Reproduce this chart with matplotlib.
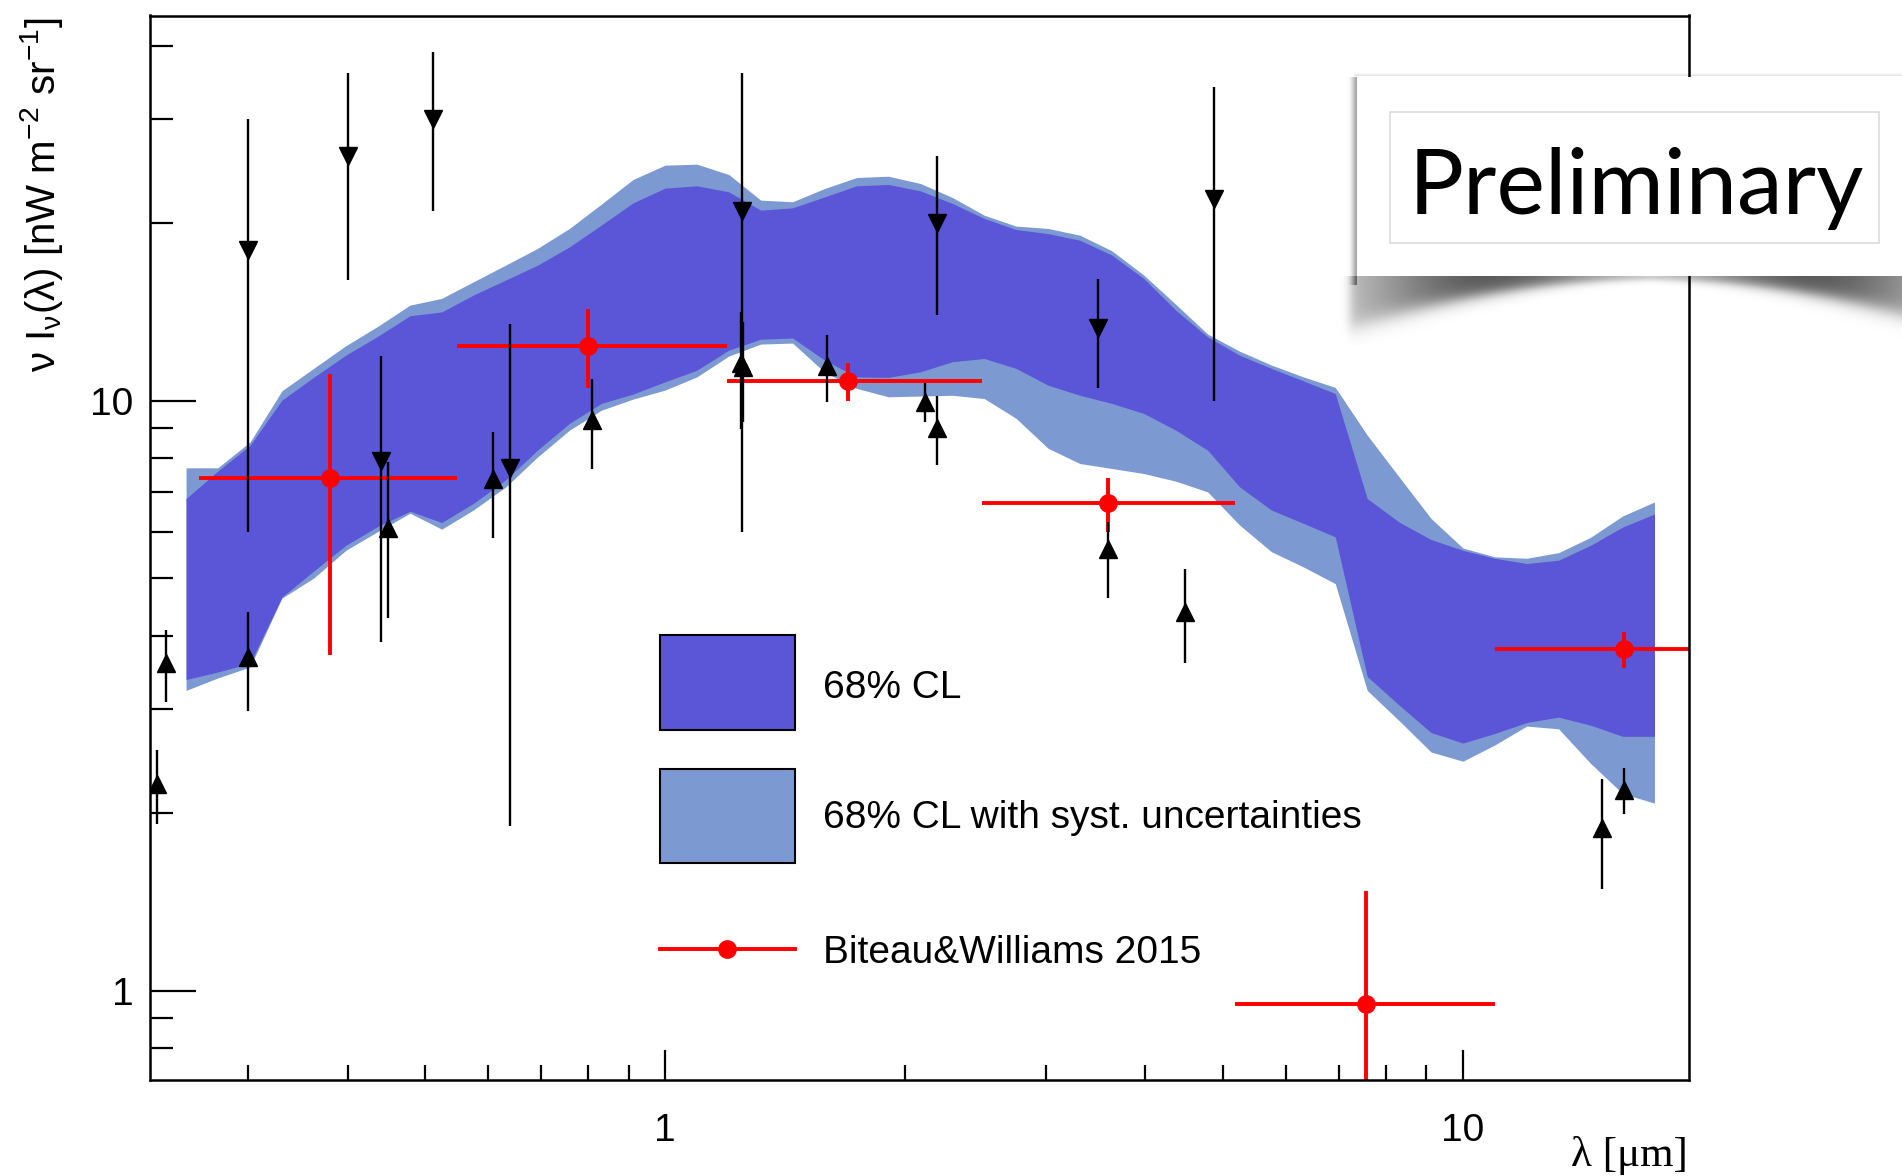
import numpy as np
import matplotlib.pyplot as plt
from matplotlib.patches import Rectangle
from matplotlib.lines import Line2D
from matplotlib.ticker import FixedLocator, LogLocator, NullFormatter

plt.rcParams['font.family'] = ['Liberation Sans', 'DejaVu Sans']
plt.rcParams['mathtext.fontset'] = 'custom'
plt.rcParams['mathtext.rm'] = 'Liberation Sans'
plt.rcParams['mathtext.it'] = 'Liberation Sans:italic'

# EBL band: wavelength grid (um) and the 68% CL envelopes (nW m^-2 sr^-1)
lam = [0.251, 0.275, 0.302, 0.331, 0.363, 0.398, 0.437, 0.479, 0.525, 0.575,
       0.631, 0.692, 0.759, 0.832, 0.912, 1.000, 1.096, 1.202, 1.318, 1.445,
       1.585, 1.738, 1.905, 2.089, 2.291, 2.512, 2.754, 3.020, 3.311, 3.631,
       3.981, 4.365, 4.786, 5.248, 5.754, 6.310, 6.918, 7.586, 8.318, 9.120,
       10.00, 10.96, 12.02, 13.18, 14.45, 15.85, 17.38]
stat_hi = [6.83, 7.60, 8.41, 10.03, 10.97, 11.95, 12.88, 13.94, 14.15, 15.11,
           16.02, 16.98, 18.24, 19.86, 21.66, 22.94, 23.15, 22.61, 21.05, 21.24,
           22.17, 23.15, 23.27, 22.70, 21.61, 20.38, 19.52, 19.21, 18.72, 17.66,
           16.12, 14.25, 12.84, 11.95, 11.35, 10.81, 10.29, 6.83, 6.23, 5.82,
           5.58, 5.41, 5.30, 5.37, 5.69, 6.11, 6.43]
stat_lo = [3.37, 3.47, 3.59, 4.65, 5.15, 5.69, 6.13, 6.50, 6.22, 6.70,
           7.34, 8.25, 9.16, 9.90, 10.27, 10.77, 11.27, 12.19, 12.72, 12.78,
           11.72, 10.98, 10.96, 11.20, 11.65, 11.80, 11.35, 10.63, 10.22, 9.90,
           9.52, 8.92, 8.25, 7.15, 6.53, 6.20, 5.88, 3.41, 3.05, 2.74,
           2.63, 2.73, 2.85, 2.91, 2.82, 2.70, 2.70]
syst_hi = [7.70, 7.70, 8.52, 10.40, 11.36, 12.40, 13.39, 14.53, 14.92, 15.91,
           16.98, 18.13, 19.60, 21.55, 23.73, 25.09, 25.19, 24.19, 21.89, 21.75,
           22.91, 23.91, 24.03, 23.36, 22.12, 20.64, 19.78, 19.60, 19.09, 17.96,
           16.34, 14.58, 12.98, 12.14, 11.50, 10.98, 10.54, 8.75, 7.43, 6.32,
           5.63, 5.44, 5.41, 5.53, 5.87, 6.38, 6.74]
syst_lo = [3.23, 3.39, 3.54, 4.63, 5.01, 5.58, 6.01, 6.45, 6.06, 6.53,
           7.14, 8.03, 8.92, 9.64, 10.07, 10.43, 10.98, 11.91, 12.48, 12.53,
           11.18, 10.50, 10.16, 10.19, 10.22, 10.09, 9.34, 8.31, 7.83, 7.68,
           7.53, 7.31, 7.01, 6.16, 5.55, 5.23, 4.90, 3.23, 2.87, 2.54,
           2.45, 2.61, 2.81, 2.78, 2.43, 2.16, 2.08]

# upper limits (direct measurements / foreground-subtracted)
ul_x = [0.300, 0.400, 0.512, 0.440, 0.639, 1.248, 2.194, 3.49, 4.88]
ul_y = [18.0, 26.0, 30.0, 7.9, 7.7, 21.0, 20.0, 13.3, 22.0]
ul_err = [12.0, 10.0, 9.0, 4.0, 5.8, 15.0, 6.0, 2.8, 12.0]

# lower limits (galaxy counts)
ll_x = [0.231, 0.2367, 0.300, 0.450, 0.609, 0.809, 1.245, 1.252, 1.597,
        2.118, 2.194, 3.59, 4.48, 14.95, 15.93]
ll_y = [2.24, 3.59, 3.68, 6.08, 7.36, 9.27, 11.57, 11.40, 11.45,
        9.96, 8.98, 5.62, 4.39, 1.885, 2.19]
ll_err_lo = [0.32, 0.5, 0.7, 1.8, 1.5, 1.6, 2.6, 2.2, 1.5,
             0.75, 1.2, 0.99, 0.79, 0.40, 0.20]
ll_err_hi = [0.32, 0.5, 0.7, 1.8, 1.5, 1.6, 2.6, 2.2, 1.5,
             0.75, 1.2, 0.62, 0.79, 0.40, 0.20]

# Biteau & Williams 2015: bin centre, bin edges, value, error
bw_x = [0.380, 0.800, 1.697, 3.588, 7.57, 15.93]
bw_xlo = [0.2606, 0.549, 1.197, 2.494, 5.18, 10.97]
bw_xhi = [0.549, 1.197, 2.494, 5.18, 10.97, 23.0]
bw_y = [7.40, 12.40, 10.81, 6.70, 0.948, 3.79]
bw_yerr = [3.69, 1.90, 0.80, 0.70, 0.53, 0.26]

c_stat = '#5a56d7'
c_syst = '#7c9ad1'

W, H = 1902, 1176
fig = plt.figure(figsize=(W / 100, H / 100), dpi=100)
ax = fig.add_axes([150 / W, 1 - 1080 / H, 1539 / W, 1064.5 / H])
ax.set_xscale('log')
ax.set_yscale('log')

ax.fill_between(lam, syst_lo, syst_hi, color=c_syst, lw=0, zorder=1)
ax.fill_between(lam, stat_lo, stat_hi, color=c_stat, lw=0, zorder=1.5)

bx = np.array(bw_x)
ax.errorbar(bw_x, bw_y,
            xerr=[bx - np.array(bw_xlo), np.array(bw_xhi) - bx],
            yerr=bw_yerr, fmt='o', color='red', ms=12.5, elinewidth=2.8,
            capsize=0, zorder=2)

ax.errorbar(ul_x, ul_y, yerr=ul_err, fmt='v', color='black', ms=12.5,
            elinewidth=1.7, capsize=0, zorder=3)
ax.errorbar(ll_x, ll_y, yerr=[ll_err_lo, ll_err_hi], fmt='^', color='black',
            ms=12.5, elinewidth=1.7, capsize=0, zorder=3)

ax.set_xlim(0.2262, 19.2)
ax.set_ylim(0.706, 45.0)

for a in (ax.xaxis, ax.yaxis):
    a.set_major_locator(FixedLocator([1, 10]))
    a.set_minor_locator(LogLocator(base=10, subs=range(2, 10)))
    a.set_minor_formatter(NullFormatter())
ax.set_xticklabels(['1', '10'])
ax.set_yticklabels(['1', '10'])
ax.tick_params(which='both', direction='in', top=False, right=False, width=1.6)
ax.tick_params(axis='x', which='major', length=21.6, labelsize=28, pad=24)
ax.tick_params(axis='x', which='minor', length=10.8)
ax.tick_params(axis='y', which='major', length=33, labelsize=28, pad=12)
ax.tick_params(axis='y', which='minor', length=16.5)
for s in ax.spines.values():
    s.set_linewidth(1.8)

ax.text(-0.0552, 0.998, r'ν I$_{\mathrm{ν}}$(λ) [nW m$^{-2}$ sr$^{-1}$]',
        rotation=90, ha='right', va='top', fontsize=29, transform=ax.transAxes)
ax.text(0.9991, -0.0705, 'λ [μm]', ha='right', va='center', fontsize=31,
        family=['Liberation Serif', 'DejaVu Serif'], transform=ax.transAxes)

# legend drawn by hand, ROOT style
bw_box = 0.4189 - 0.3311
ax.add_patch(Rectangle((0.3311, 0.3292), bw_box, 0.0888, transform=ax.transAxes,
                       fc=c_stat, ec='black', lw=1.5, zorder=5))
ax.add_patch(Rectangle((0.3311, 0.2035), bw_box, 0.0888, transform=ax.transAxes,
                       fc=c_syst, ec='black', lw=1.5, zorder=5))
ax.add_line(Line2D([0.3311, 0.4189], [0.1229, 0.1229], transform=ax.transAxes,
                   color='red', lw=2.8, zorder=5))
ax.add_line(Line2D([0.3749], [0.1229], transform=ax.transAxes, marker='o',
                   ms=12.5, color='red', zorder=5))
ax.text(0.4376, 0.3591, '68% CL', fontsize=28, va='baseline',
        transform=ax.transAxes)
ax.text(0.4376, 0.2363, '68% CL with syst. uncertainties', fontsize=28,
        va='baseline', transform=ax.transAxes)
ax.text(0.4376, 0.1097, 'Biteau&Williams 2015', fontsize=28, va='baseline',
        transform=ax.transAxes)

# "Preliminary" stamp with a lifted-corner drop shadow
sx0, sx1, sy0, sy1 = 1330, 1902, 60, 345
ov = fig.add_axes([sx0 / W, 1 - sy1 / H, (sx1 - sx0) / W, (sy1 - sy0) / H])
ov.axis('off')
ov.patch.set_visible(False)
xx, yy = np.meshgrid(np.arange(sx0, sx1) + 0.5, np.arange(sy0, sy1) + 0.5)
bx0, by0, by1 = 1357, 76.5, 275.5
u = np.clip((xx - 1650) / 290, -1.2, 1.2)
edge = 280 + 45 * u ** 2
dark = 0.1 + 0.55 * np.exp(-((np.abs(u) - 0.55) / 0.45) ** 2)
soft = 3 + 9 * np.abs(u)
below = dark * 0.5 * (1 - np.tanh((yy - edge) / soft)) * (yy > by1)
below *= 0.5 * (1 + np.tanh((xx - 1350) / 6))
side = 0.35 * np.exp(-((bx0 - xx) / 5) ** 2) * (xx < bx0) * ((yy > by0) & (yy < by1 + 10))
top = 0.12 * np.exp(-((by0 - yy) / 2.5) ** 2) * (yy < by0) * (xx > bx0 - 3)
rgba = np.zeros(xx.shape + (4,))
rgba[..., 3] = np.clip(below + side + top, 0, 0.85)
ov.imshow(rgba, extent=(sx0, sx1, sy1, sy0), origin='upper', aspect='auto',
          interpolation='bilinear')
ov.add_patch(Rectangle((bx0, by0), sx1 - bx0 + 10, by1 - by0, fc='white',
                       ec='none'))
ov.add_patch(Rectangle((1390, 111.7), 1879 - 1390, 243 - 111.7, fc='none',
                       ec='#dcdcdc', lw=1.2))
ov.text(1408.5, 214.3, 'Preliminary', fontsize=66, family='Lato',
        ha='left', va='baseline')
ov.set_xlim(sx0, sx1)
ov.set_ylim(sy1, sy0)

fig.savefig('out.png', dpi=100)
